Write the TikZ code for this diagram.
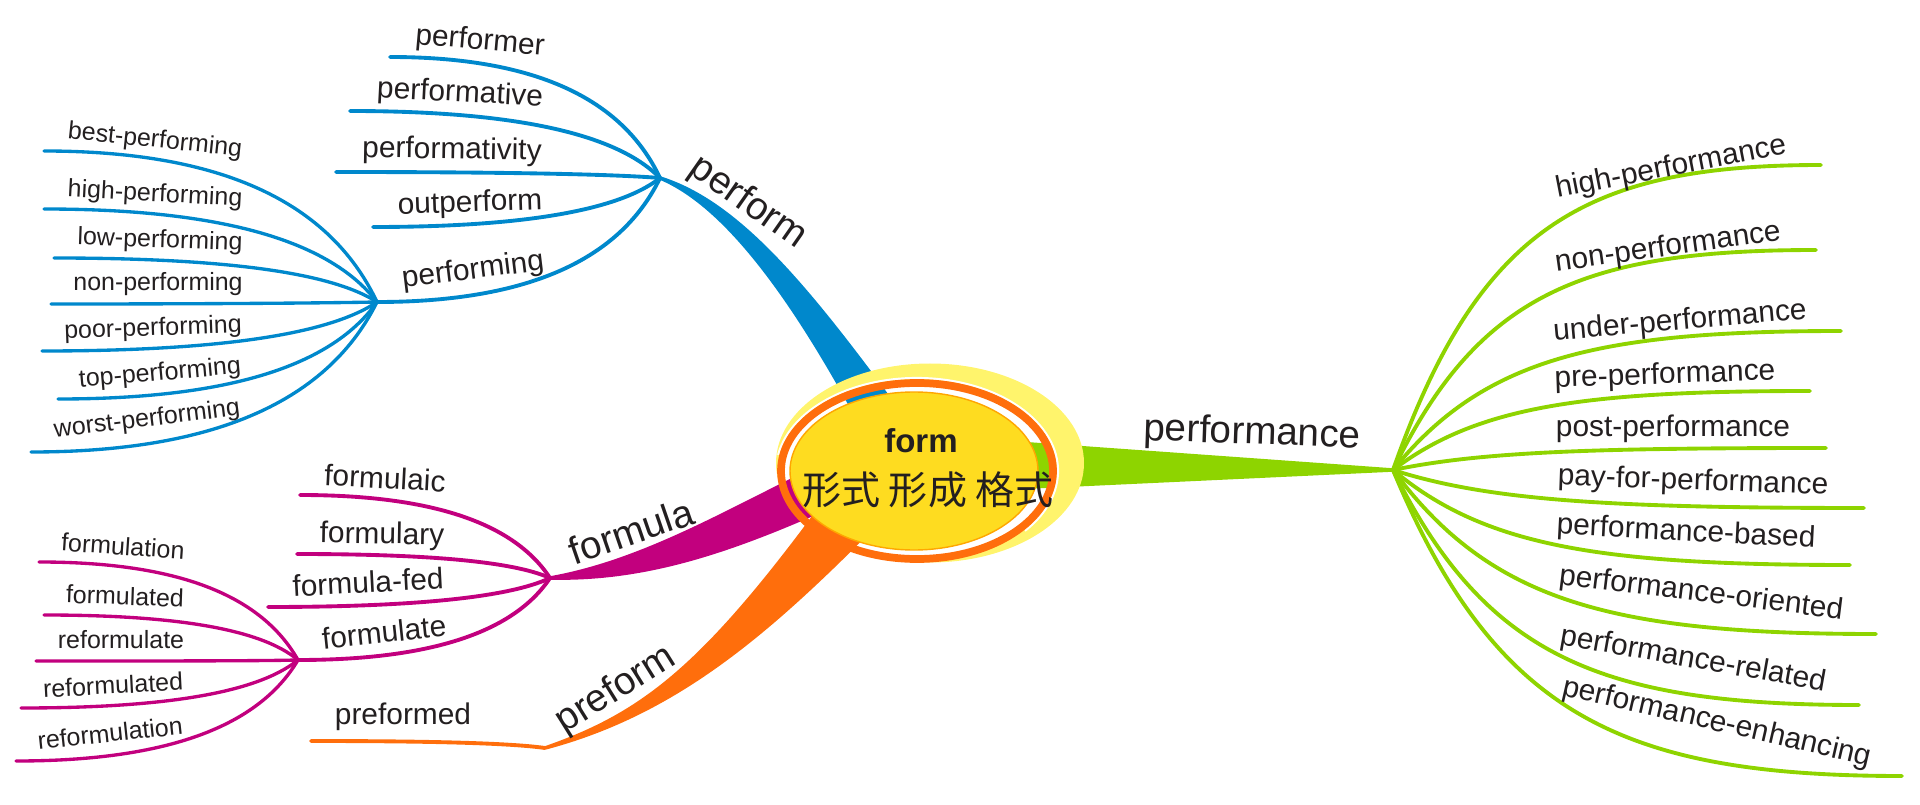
\documentclass[tikz,border=0pt]{standalone}
\usepackage{fontspec}
\setmainfont{Liberation Sans}
\newfontfamily\cjk{Noto Sans CJK SC}
\usepackage{tikz}
\definecolor{ink}{HTML}{231F20}
\definecolor{pfblue}{HTML}{0088CC}
\definecolor{fmmag}{HTML}{C2007E}
\definecolor{prorange}{HTML}{FF6E0C}
\definecolor{pcgreen}{HTML}{8ED400}
\definecolor{ctyellow}{HTML}{FEDC20}
\definecolor{glowy}{HTML}{FFF46C}

\begin{document}
\begin{tikzpicture}[x=0.1mm, y=-0.1mm,
  lf/.style={font=\fontsize{8.5}{10}\selectfont, text=ink, inner sep=0pt},
  sl/.style={font=\fontsize{7.1}{8.5}\selectfont, text=ink, inner sep=0pt},
  br/.style={font=\fontsize{11}{13}\selectfont, text=ink, inner sep=0pt},
  tw/.style={line width=1.1pt, line cap=round},
  tws/.style={line width=0.95pt, line cap=round}
]
\useasboundingbox (0,0) rectangle (1920,805);
% ---- hubs (pixel grid, y down) ----
\coordinate (pfhub) at (660,178); \coordinate (pghub) at (377,302);
\coordinate (fmhub) at (550,578); \coordinate (fthub) at (298,660);
\coordinate (prhub) at (545,748); \coordinate (pchub) at (1393,470);
\coordinate (ctr) at (917,471);

% ===== PERFORM  (blue, upper left) =====
\filldraw[pfblue, line width=1pt] (pfhub) .. controls (740,203) and (810,290) .. (905,420) -- (865,432) .. controls (800,310) and (730,207) .. (pfhub) -- cycle;
\coordinate (pf1) at (390,57); \coordinate (pf2) at (350,111); \coordinate (pf3) at (336,172); \coordinate (pf4) at (373,227);
\draw[tw,pfblue] (pfhub) .. controls +(-40,-85) and +(135,0) .. (pf1);
\draw[tw,pfblue] (pfhub) .. controls +(-46,-47) and +(155,0) .. (pf2);
\draw[tw,pfblue] (pfhub) .. controls +(-49,-4) and +(162,0) .. (pf3);
\draw[tw,pfblue] (pfhub) .. controls +(-43,34) and +(143,0) .. (pf4);
\draw[tw,pfblue] (pfhub) .. controls +(-42,87) and +(141,0) .. (pghub);
\node[lf,rotate=-5] (performer) at (480,42) {performer};
\node[lf,rotate=-3] (performative) at (460,94) {performative};
\node[lf,rotate=-1] (performativity) at (452,151) {performativity};
\node[lf,rotate=2] (outperform) at (470,204) {outperform};
\node[lf,rotate=7] (performing) at (473,271) {performing};

% ---- performing -> seven leaves ----
\coordinate (pg1) at (44,151); \coordinate (pg2) at (44,209); \coordinate (pg3) at (54,258); \coordinate (pg4) at (51,304);
\coordinate (pg5) at (42,351); \coordinate (pg6) at (58,399); \coordinate (pg7) at (31,452);
\draw[tws,pfblue] (pghub) .. controls +(-50,-106) and +(167,0) .. (pg1);
\draw[tws,pfblue] (pghub) .. controls +(-50,-65) and +(167,0) .. (pg2);
\draw[tws,pfblue] (pghub) .. controls +(-48,-31) and +(162,0) .. (pg3);
\draw[tws,pfblue] (pghub) .. controls +(-49,1) and +(163,0) .. (pg4);
\draw[tws,pfblue] (pghub) .. controls +(-50,34) and +(168,0) .. (pg5);
\draw[tws,pfblue] (pghub) .. controls +(-48,68) and +(160,0) .. (pg6);
\draw[tws,pfblue] (pghub) .. controls +(-52,105) and +(173,0) .. (pg7);
\node[sl,rotate=-6] (bestpf) at (155,141) {best-performing};
\node[sl,rotate=-3] (highpf) at (155,195) {high-performing};
\node[sl,rotate=-2] (lowpf) at (160,241) {low-performing};
\node[sl] (nonpf) at (158,284) {non-performing};
\node[sl,rotate=2] (poorpf) at (153,329) {poor-performing};
\node[sl,rotate=5] (toppf) at (160,374) {top-performing};
\node[sl,rotate=7] (worstpf) at (147,420) {worst-performing};

% ===== FORMULA  (magenta, lower left) =====
\filldraw[fmmag, line width=1pt] (fmhub) .. controls (640,562) and (720,515) .. (812,470) -- (818,512) .. controls (720,555) and (640,580) .. (fmhub) -- cycle;
\coordinate (fm1) at (300,495); \coordinate (fm2) at (297,554); \coordinate (fm3) at (268,607);
\draw[tw,fmmag] (fmhub) .. controls +(-38,-58) and +(125,0) .. (fm1);
\draw[tw,fmmag] (fmhub) .. controls +(-38,-17) and +(127,0) .. (fm2);
\draw[tw,fmmag] (fmhub) .. controls +(-42,20) and +(141,0) .. (fm3);
\draw[tw,fmmag] (fmhub) .. controls +(-38,57) and +(126,0) .. (fthub);
\node[lf,rotate=-3] (formulaic) at (385,478) {formulaic};
\node[lf,rotate=-1] (formulary) at (382,536) {formulary};
\node[lf,rotate=3] (formulafed) at (368,582) {formula-fed};
\node[lf,rotate=6] (formulate) at (384,632) {formulate};

% ---- formulate -> five leaves ----
\coordinate (ft1) at (39,562); \coordinate (ft2) at (44,615); \coordinate (ft3) at (36,661); \coordinate (ft4) at (21,708); \coordinate (ft5) at (16,761);
\draw[tws,fmmag] (fthub) .. controls +(-39,-69) and +(130,0) .. (ft1);
\draw[tws,fmmag] (fthub) .. controls +(-38,-32) and +(127,0) .. (ft2);
\draw[tws,fmmag] (fthub) .. controls +(-39,1) and +(131,0) .. (ft3);
\draw[tws,fmmag] (fthub) .. controls +(-42,34) and +(139,0) .. (ft4);
\draw[tws,fmmag] (fthub) .. controls +(-42,71) and +(141,0) .. (ft5);
\node[sl,rotate=-4] (formulation) at (123,546) {formulation};
\node[sl,rotate=-2] (formulated) at (125,596) {formulated};
\node[sl] (reformulate) at (121,640) {reformulate};
\node[sl,rotate=3] (reformulated) at (113,685) {reformulated};
\node[sl,rotate=6] (reformulation) at (110,733) {reformulation};

% ===== PREFORM  (orange, bottom) =====
\filldraw[prorange, line width=1pt] (prhub) .. controls (640,715) and (700,670) .. (815,515) -- (862,538) .. controls (760,640) and (670,715) .. (prhub) -- cycle;
\coordinate (pr1) at (311,741);
\draw[tw,prorange] (prhub) .. controls +(-35,-5) and +(117,0) .. (pr1);
\node[lf] (preformed) at (403,717) {preformed};

% ===== PERFORMANCE  (green, right) =====
\filldraw[pcgreen, line width=1pt] (1030,444) -- (pchub) -- (1030,487) -- cycle;
\coordinate (pc1) at (1821,165); \coordinate (pc2) at (1816,250); \coordinate (pc3) at (1841,331); \coordinate (pc4) at (1810,391); \coordinate (pc5) at (1826,448);
\coordinate (pc6) at (1864,508); \coordinate (pc7) at (1850,565); \coordinate (pc8) at (1876,634); \coordinate (pc9) at (1859,705); \coordinate (pc10) at (1902,776);
\draw[tw,pcgreen] (pchub) .. controls +(86,-244) and +(-235,0) .. (pc1);
\draw[tw,pcgreen] (pchub) .. controls +(85,-176) and +(-233,0) .. (pc2);
\draw[tw,pcgreen] (pchub) .. controls +(90,-111) and +(-246,0) .. (pc3);
\draw[tw,pcgreen] (pchub) .. controls +(83,-63) and +(-229,0) .. (pc4);
\draw[tw,pcgreen] (pchub) .. controls +(87,-18) and +(-238,0) .. (pc5);
\draw[tw,pcgreen] (pchub) .. controls +(94,30) and +(-259,0) .. (pc6);
\draw[tw,pcgreen] (pchub) .. controls +(91,76) and +(-251,0) .. (pc7);
\draw[tw,pcgreen] (pchub) .. controls +(97,131) and +(-266,0) .. (pc8);
\draw[tw,pcgreen] (pchub) .. controls +(93,188) and +(-256,0) .. (pc9);
\draw[tw,pcgreen] (pchub) .. controls +(102,245) and +(-280,0) .. (pc10);
\node[lf,rotate=11] (highpc) at (1671,168) {high-performance};
\node[lf,rotate=8] (nonpc) at (1668,248) {non-performance};
\node[lf,rotate=5] (underpc) at (1680,322) {under-performance};
\node[lf,rotate=2] (prepc) at (1665,376) {pre-performance};
\node[lf] (postpc) at (1673,429) {post-performance};
\node[lf,rotate=-2] (paypc) at (1693,482) {pay-for-performance};
\node[lf,rotate=-3] (basedpc) at (1686,533) {performance-based};
\node[lf,rotate=-7] (orientedpc) at (1701,594) {performance-oriented};
\node[lf,rotate=-10] (relatedpc) at (1693,660) {performance-related};
\node[lf,rotate=-13] (enhancingpc) at (1717,723) {performance-enhancing};

% ---- branch labels ----
\node[br,rotate=-35] (perform) at (748,203) {perform};
\node[br,rotate=19] (formula) at (631,531) {formula};
\node[br,rotate=32] (preform) at (616,690) {preform};
\node[br,rotate=-2] (performance) at (1252,434) {performance};

% ===== CENTRE  (glow, ring, yellow disc) =====
\fill[glowy, even odd rule] (930,463) ellipse [x radius=154, y radius=99.5] (ctr) ellipse [x radius=136, y radius=88];
\draw[white, line width=0.6pt] (ctr) ++(190:141 and 93) arc [start angle=190, end angle=400, x radius=141, y radius=93];
\draw[prorange, line width=2.2pt] (ctr) ellipse [x radius=136, y radius=88];
\filldraw[fill=ctyellow, draw=orange!70!yellow, line width=0.4pt] (914,471) ellipse [x radius=124, y radius=79];
\node[font=\fontsize{9.4}{11}\selectfont\bfseries, text=ink, inner sep=0pt] (form) at (921,441) {form};
\node[font=\cjk\fontsize{11.1}{13}\selectfont, text=ink, inner sep=0pt] (formzh) at (928,490) {形式 形成 格式};

\end{tikzpicture}
\end{document}
